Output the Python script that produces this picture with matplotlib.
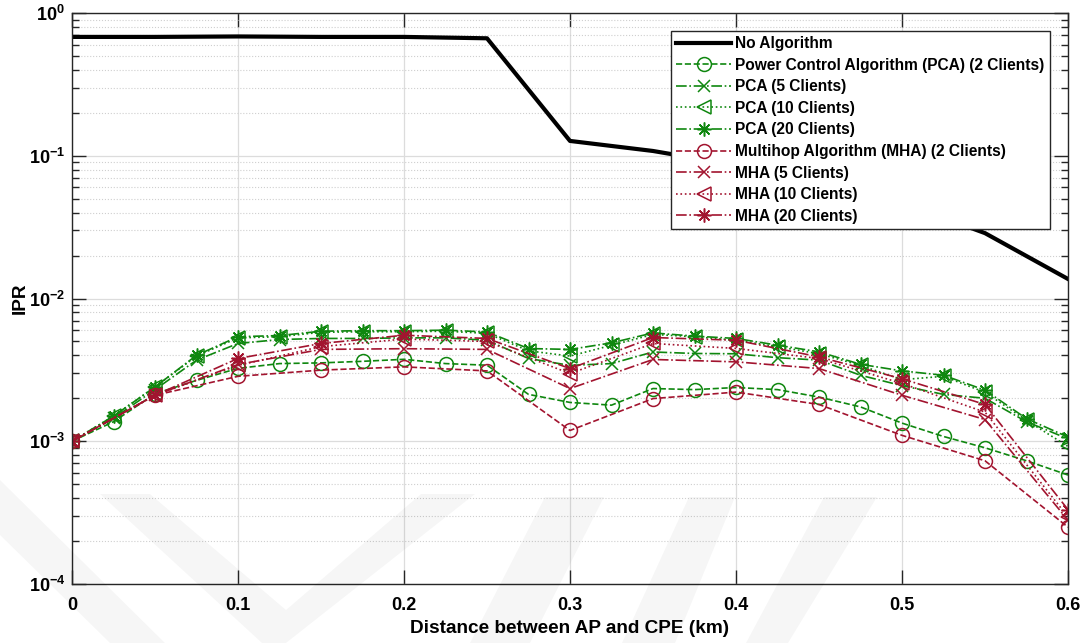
import matplotlib
matplotlib.use("Agg")
import matplotlib.pyplot as plt
import matplotlib.patches as patches
from matplotlib.ticker import LogLocator, FuncFormatter, NullFormatter, FixedLocator
import numpy as np

plt.rcParams['font.family'] = ['Liberation Sans', 'DejaVu Sans']
plt.rcParams['font.weight'] = 'bold'
plt.rcParams['mathtext.fontset'] = 'custom'
plt.rcParams['mathtext.rm'] = 'Liberation Sans:bold'
plt.rcParams['mathtext.bf'] = 'Liberation Sans:bold'

# Distances (km)
dist_pca = [0.0, 0.025, 0.05, 0.075, 0.1, 0.125, 0.15, 0.175, 0.2, 0.225, 0.25, 0.275,
            0.3, 0.325, 0.35, 0.375, 0.4, 0.425, 0.45, 0.475, 0.5, 0.525, 0.55, 0.575, 0.6]
dist_mha = [0.0, 0.05, 0.1, 0.15, 0.2, 0.25, 0.3, 0.35, 0.4, 0.45, 0.5, 0.55, 0.6]

# IPR values
ipr_none = [0.68, 0.68, 0.685, 0.68, 0.68, 0.665, 0.127, 0.108, 0.086, 0.068, 0.047, 0.0287, 0.0137]

ipr_pca2 = [1.00e-3, 1.37e-3, 2.15e-3, 2.67e-3, 3.24e-3, 3.50e-3, 3.54e-3, 3.63e-3, 3.75e-3,
            3.50e-3, 3.41e-3, 2.13e-3, 1.87e-3, 1.79e-3, 2.34e-3, 2.30e-3, 2.38e-3, 2.30e-3,
            2.04e-3, 1.74e-3, 1.34e-3, 1.08e-3, 9.0e-4, 7.3e-4, 5.8e-4]
ipr_pca5 = [1.00e-3, 1.45e-3, 2.30e-3, 3.70e-3, 4.84e-3, 5.16e-3, 5.25e-3, 5.25e-3, 5.30e-3,
            5.30e-3, 5.10e-3, 3.80e-3, 3.40e-3, 3.50e-3, 4.22e-3, 4.12e-3, 4.10e-3, 3.85e-3,
            3.70e-3, 2.90e-3, 2.45e-3, 2.13e-3, 2.00e-3, 1.37e-3, 1.04e-3]
ipr_pca10 = [1.00e-3, 1.50e-3, 2.40e-3, 3.95e-3, 5.30e-3, 5.40e-3, 5.80e-3, 5.85e-3, 5.85e-3,
             5.90e-3, 5.70e-3, 4.30e-3, 3.95e-3, 4.70e-3, 5.60e-3, 5.40e-3, 5.10e-3, 4.60e-3,
             4.10e-3, 3.40e-3, 2.70e-3, 2.85e-3, 2.20e-3, 1.40e-3, 9.2e-4]
ipr_pca20 = [1.00e-3, 1.50e-3, 2.40e-3, 4.00e-3, 5.40e-3, 5.50e-3, 5.90e-3, 5.95e-3, 5.95e-3,
             6.00e-3, 5.83e-3, 4.46e-3, 4.40e-3, 4.89e-3, 5.74e-3, 5.45e-3, 5.25e-3, 4.71e-3,
             4.23e-3, 3.46e-3, 3.11e-3, 2.90e-3, 2.28e-3, 1.44e-3, 1.07e-3]

ipr_mha2 = [1.0e-3, 2.1e-3, 2.85e-3, 3.15e-3, 3.32e-3, 3.11e-3, 1.19e-3, 1.99e-3, 2.21e-3,
            1.81e-3, 1.10e-3, 7.3e-4, 2.5e-4]
ipr_mha5 = [1.0e-3, 2.1e-3, 3.45e-3, 4.40e-3, 4.45e-3, 4.40e-3, 2.34e-3, 3.74e-3, 3.60e-3,
            3.23e-3, 2.10e-3, 1.42e-3, 2.8e-4]
ipr_mha10 = [1.0e-3, 2.1e-3, 3.40e-3, 4.60e-3, 5.20e-3, 5.00e-3, 2.98e-3, 4.84e-3, 4.47e-3,
             3.80e-3, 2.54e-3, 1.60e-3, 2.95e-4]
ipr_mha20 = [1.0e-3, 2.1e-3, 3.80e-3, 4.84e-3, 5.53e-3, 5.25e-3, 3.23e-3, 5.33e-3, 5.10e-3,
             3.90e-3, 2.74e-3, 1.81e-3, 3.32e-4]

x_ticks = [0, 0.1, 0.2, 0.3, 0.4, 0.5, 0.6]
x_ticklabels = ['0', '0.1', '0.2', '0.3', '0.4', '0.5', '0.6']

VERDE = '#0f870f'
ROJO = '#a2142f'
ASTER = (8, 2, 0)  # asterisco tipo MATLAB

fig = plt.figure(figsize=(10.9, 6.43), dpi=100)
ax = fig.add_axes([72/1090, 1 - 584/643, (1068-72)/1090, (584-13)/643])

ms = 10
lw = 1.2
ax.plot(dist_mha, ipr_none, '-', color='black', lw=3, label='No Algorithm')
ax.plot(dist_pca, ipr_pca2, '--', marker='o', color=VERDE, mfc='none', ms=ms, lw=lw, mew=1.1,
        label='Power Control Algorithm (PCA) (2 Clients)')
ax.plot(dist_pca, ipr_pca5, '-.', marker='x', color=VERDE, ms=ms - 1, lw=lw, mew=1.1,
        label='PCA (5 Clients)')
ax.plot(dist_pca, ipr_pca10, ':', marker='<', color=VERDE, mfc='none', ms=ms, lw=lw, mew=1.1,
        label='PCA (10 Clients)')
ax.plot(dist_pca, ipr_pca20, '-.', marker=ASTER, color=VERDE, ms=ms, lw=lw, mew=1.1,
        label='PCA (20 Clients)')
ax.plot(dist_mha, ipr_mha2, '--', marker='o', color=ROJO, mfc='none', ms=ms, lw=lw, mew=1.1,
        label='Multihop Algorithm (MHA) (2 Clients)')
ax.plot(dist_mha, ipr_mha5, '-.', marker='x', color=ROJO, ms=ms - 1, lw=lw, mew=1.1,
        label='MHA (5 Clients)')
ax.plot(dist_mha, ipr_mha10, ':', marker='<', color=ROJO, mfc='none', ms=ms, lw=lw, mew=1.1,
        label='MHA (10 Clients)')
ax.plot(dist_mha, ipr_mha20, '-.', marker=ASTER, color=ROJO, ms=ms, lw=lw, mew=1.1,
        label='MHA (20 Clients)')

# Ejes
ax.set_yscale('log')
ax.set_xlim(0, 0.6)
ax.set_ylim(1e-4, 1)
ax.xaxis.set_major_locator(FixedLocator(x_ticks))
ax.set_xticklabels(x_ticklabels)
ax.yaxis.set_major_locator(LogLocator(base=10, numticks=10))
ax.yaxis.set_minor_locator(LogLocator(base=10, subs=np.arange(2, 10), numticks=20))
ax.yaxis.set_major_formatter(FuncFormatter(lambda v, p: r'$\mathbf{10^{%d}}$' % round(np.log10(v))))
ax.yaxis.set_minor_formatter(NullFormatter())

ax.tick_params(axis='both', which='major', direction='in', length=10, width=1, color='#262626',
               labelsize=13, top=True, right=True)
ax.tick_params(axis='x', which='major', pad=9)
ax.tick_params(axis='y', which='major', pad=5)
ax.tick_params(axis='y', which='minor', direction='in', length=5, width=1, color='#262626',
               right=True, left=True)
for s in ax.spines.values():
    s.set_color('#262626')
    s.set_linewidth(1)

ax.grid(True, which='major', color='#dcdcdc', linestyle='-', lw=0.9)
ax.grid(True, which='minor', axis='y', color='#cfcfcf', linestyle=':', lw=0.8)
ax.set_axisbelow(True)

ax.set_xlabel('Distance between AP and CPE (km)', fontsize=13.7, fontweight='bold', labelpad=5)
ax.set_ylabel('IPR', fontsize=13.7, fontweight='bold', labelpad=0)

leg = ax.legend(loc='upper right', fontsize=11.2, handlelength=3.5, handletextpad=0.3,
                borderaxespad=1.15, labelspacing=0.42, fancybox=False, framealpha=1,
                edgecolor='#262626', borderpad=0.35)
leg.get_frame().set_linewidth(1)
for t in leg.get_texts():
    t.set_fontweight('bold')

# Marca de agua (gris muy claro)
def banda(puntos):
    pts = [(x/1090, 1 - y/643) for x, y in puntos]
    fig.patches.append(patches.Polygon(pts, closed=True, transform=fig.transFigure,
                                       facecolor='black', edgecolor='none', alpha=0.035, zorder=5))

banda([(0, 480), (0, 535), (110, 643), (165, 643)])
banda([(100, 494), (150, 494), (286, 610), (421, 494), (475, 494), (286, 643), (262, 643)])
banda([(470, 643), (545, 497), (604, 497), (530, 643)])
banda([(622, 643), (689, 497), (735, 497), (675, 643)])
banda([(746, 643), (824, 497), (877, 497), (788, 643)])

plt.savefig('out.png', dpi=100)
